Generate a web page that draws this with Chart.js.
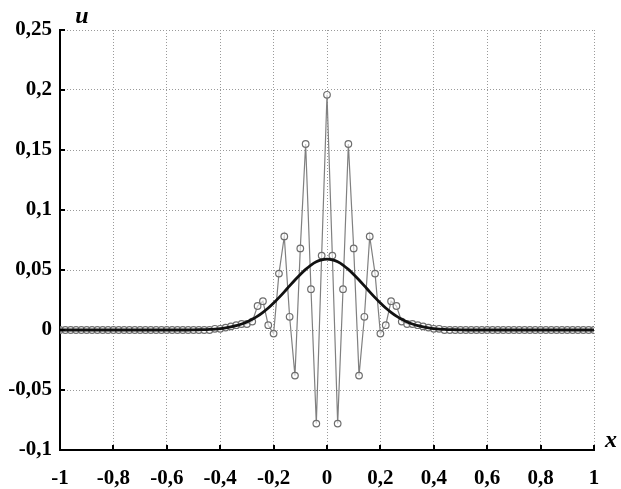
<!DOCTYPE html>
<html>
<head>
<meta charset="utf-8">
<script src="https://cdn.jsdelivr.net/npm/chart.js@4/dist/chart.umd.min.js"></script>
<style>
  body { margin: 0; background: #fff; }
  canvas { display: block; }
</style>
</head>
<body>
<canvas id="c" width="621" height="489"></canvas>
<script>
// grid of x points
const xs = [
  -1, -0.98, -0.96, -0.94, -0.92, -0.9, -0.88, -0.86, -0.84, -0.82,
  -0.8, -0.78, -0.76, -0.74, -0.72, -0.7, -0.68, -0.66, -0.64, -0.62,
  -0.6, -0.58, -0.56, -0.54, -0.52, -0.5, -0.48, -0.46, -0.44, -0.42,
  -0.4, -0.38, -0.36, -0.34, -0.32, -0.3, -0.28, -0.26, -0.24, -0.22,
  -0.2, -0.18, -0.16, -0.14, -0.12, -0.1, -0.08, -0.06, -0.04, -0.02,
  0,
  0.02, 0.04, 0.06, 0.08, 0.1, 0.12, 0.14, 0.16, 0.18, 0.2,
  0.22, 0.24, 0.26, 0.28, 0.3, 0.32, 0.34, 0.36, 0.38, 0.4,
  0.42, 0.44, 0.46, 0.48, 0.5, 0.52, 0.54, 0.56, 0.58, 0.6,
  0.62, 0.64, 0.66, 0.68, 0.7, 0.72, 0.74, 0.76, 0.78, 0.8,
  0.82, 0.84, 0.86, 0.88, 0.9, 0.92, 0.94, 0.96, 0.98, 1
]

// oscillating numerical solution (circles)
const uOsc = [
  0, 0, 0, 0, 0, 0, 0, 0, 0, 0,
  0, 0, 0, 0, 0, 0, 0, 0, 0, 0,
  0, 0, 0, 0, 0, 0, 0, 0, 0, 0.001,
  0.001, 0.002, 0.003, 0.004, 0.005, 0.005, 0.007, 0.020, 0.024, 0.004,
  -0.003, 0.047, 0.078, 0.011, -0.038, 0.068, 0.155, 0.034, -0.078, 0.062,
  0.196,
  0.062, -0.078, 0.034, 0.155, 0.068, -0.038, 0.011, 0.078, 0.047, -0.003,
  0.004, 0.024, 0.020, 0.007, 0.005, 0.005, 0.004, 0.003, 0.002, 0.001,
  0.001, 0, 0, 0, 0, 0, 0, 0, 0, 0,
  0, 0, 0, 0, 0, 0, 0, 0, 0, 0,
  0, 0, 0, 0, 0, 0, 0, 0, 0, 0
]

// smooth bell-shaped curve (thick line)
const uBell = [
  0, 0, 0, 0, 0, 0, 0, 0, 0, 0,
  0, 0, 0, 0, 0, 0, 0, 0, 0, 0,
  0, 0, 0, 0, 0, 0.0001, 0.0002, 0.0003, 0.0005, 0.0008,
  0.0012, 0.0018, 0.0026, 0.0036, 0.005, 0.0067, 0.0089, 0.0115, 0.0147, 0.0183,
  0.0225, 0.027, 0.0318, 0.0368, 0.0417, 0.0463, 0.0505, 0.0541, 0.0568, 0.0584,
  0.059,
  0.0584, 0.0568, 0.0541, 0.0505, 0.0463, 0.0417, 0.0368, 0.0318, 0.027, 0.0225,
  0.0183, 0.0147, 0.0115, 0.0089, 0.0067, 0.005, 0.0036, 0.0026, 0.0018, 0.0012,
  0.0008, 0.0005, 0.0003, 0.0002, 0.0001, 0, 0, 0, 0, 0,
  0, 0, 0, 0, 0, 0, 0, 0, 0, 0,
  0, 0, 0, 0, 0, 0, 0, 0, 0, 0
]

const xMin = -1, xMax = 1, xStep = 0.2
const yMin = -0.1, yMax = 0.25, yStep = 0.05

const FONT = "'Liberation Serif', 'Times New Roman', serif"

const fmt = v => String(parseFloat(v.toFixed(2))).replace('.', ',')

// inward tick marks + axis names
const decor = {
  id: 'decor',
  afterDraw(chart) {
    const ctx = chart.ctx
    const a = chart.chartArea
    const sx = chart.scales.x, sy = chart.scales.y
    ctx.save()
    ctx.strokeStyle = '#000'
    ctx.lineWidth = 2
    ctx.beginPath()
    sx.ticks.forEach(t => {
      const p = Math.round(sx.getPixelForValue(t.value))
      ctx.moveTo(p, a.bottom)
      ctx.lineTo(p, a.bottom - 5)
    })
    sy.ticks.forEach(t => {
      const p = Math.round(sy.getPixelForValue(t.value))
      ctx.moveTo(a.left, p)
      ctx.lineTo(a.left + 5, p)
    })
    ctx.stroke()
    ctx.fillStyle = '#000'
    ctx.font = "italic bold 24px " + FONT
    ctx.textAlign = 'center'
    ctx.textBaseline = 'middle'
    ctx.fillText('u', a.left + 22, a.top - 13)
    ctx.fillText('x', a.right + 17, a.bottom - 9)
    ctx.restore()
  }
}

new Chart(document.getElementById('c'), {
  type: 'line',
  data: {
    datasets: [
      {
        label: 'bell',
        data: xs.map((x, i) => ({ x: x, y: uBell[i] })),
        borderColor: '#111',
        borderWidth: 2.8,
        pointRadius: 0,
        cubicInterpolationMode: 'monotone',
        fill: false
      },
      {
        label: 'osc',
        data: xs.map((x, i) => ({ x: x, y: uOsc[i] })),
        borderColor: '#808080',
        borderWidth: 1.2,
        pointRadius: 3.3,
        pointBorderWidth: 1.2,
        pointBorderColor: '#6e6e6e',
        pointBackgroundColor: 'rgba(255,255,255,0.6)',
        tension: 0,
        fill: false
      }
    ]
  },
  options: {
    responsive: false,
    animation: false,
    devicePixelRatio: 1,
    layout: { padding: { top: 30, right: 27, left: 0, bottom: 0 } },
    plugins: {
      legend: { display: false },
      tooltip: { enabled: false }
    },
    scales: {
      x: {
        type: 'linear',
        min: xMin,
        max: xMax,
        afterFit(scale) { scale.height = 39 },
        ticks: {
          stepSize: xStep,
          color: '#000',
          padding: 16,
          font: { family: FONT, weight: 'bold', size: 21 },
          callback: v => fmt(v)
        },
        grid: { color: '#9a9a9a', lineWidth: 1, drawTicks: false },
        border: { display: true, color: '#000', width: 2, dash: [1, 2] }
      },
      y: {
        type: 'linear',
        min: yMin,
        max: yMax,
        afterFit(scale) { scale.width = 60 },
        ticks: {
          stepSize: yStep,
          color: '#000',
          padding: 8,
          font: { family: FONT, weight: 'bold', size: 21 },
          callback: v => fmt(v)
        },
        grid: { color: '#9a9a9a', lineWidth: 1, drawTicks: false },
        border: { display: true, color: '#000', width: 2, dash: [1, 2] }
      }
    }
  },
  plugins: [decor]
})
</script>
</body>
</html>
